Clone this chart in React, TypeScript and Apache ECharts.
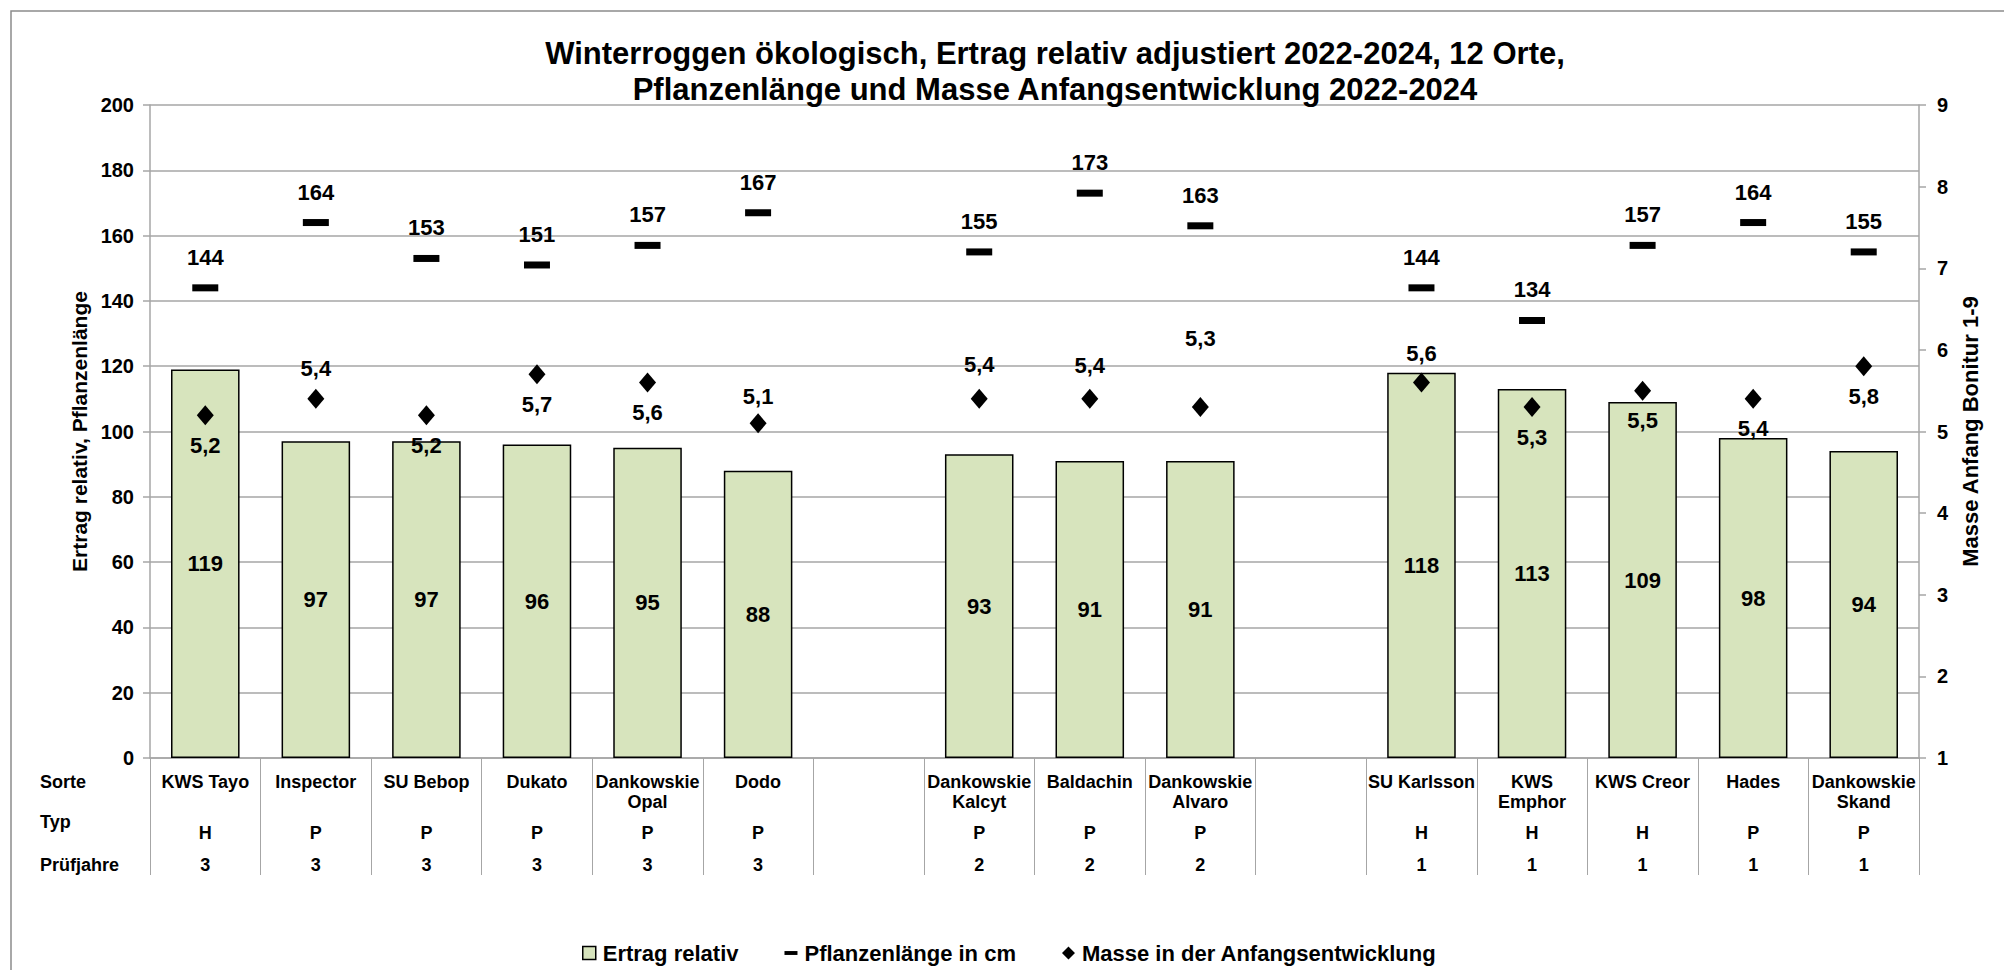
import React, { useEffect, useRef } from 'react';
import * as echarts from 'echarts';

const sorten = ['KWS Tayo', 'Inspector', 'SU Bebop', 'Dukato', 'Dankowskie\nOpal', 'Dodo', '', 'Dankowskie\nKalcyt', 'Baldachin', 'Dankowskie\nAlvaro', '', 'SU Karlsson', 'KWS\nEmphor', 'KWS Creor', 'Hades', 'Dankowskie\nSkand'];
const typ = ['H', 'P', 'P', 'P', 'P', 'P', '', 'P', 'P', 'P', '', 'H', 'H', 'H', 'P', 'P'];
const pruefjahre = ['3', '3', '3', '3', '3', '3', '', '2', '2', '2', '', '1', '1', '1', '1', '1'];
const ertrag = [119, 97, 97, 96, 95, 88, null, 93, 91, 91, null, 118, 113, 109, 98, 94];
const laenge = [144, 164, 153, 151, 157, 167, null, 155, 173, 163, null, 144, 134, 157, 164, 155];
const masse = [5.2, 5.4, 5.2, 5.7, 5.6, 5.1, null, 5.4, 5.4, 5.3, null, 5.6, 5.3, 5.5, 5.4, 5.8];
const masseLabelPos = ['bottom', 'top', 'bottom', 'bottom', 'bottom', 'top', '', 'top', 'top', 'top', '', 'top', 'bottom', 'bottom', 'bottom', 'bottom'];
const masseLabelDist = [9, 9, 9, 9, 9, 6, 0, 13, 12, 48, 0, 8, 9, 9, 9, 9];

const seriesNames = ['Ertrag relativ', 'Pflanzenlänge in cm', 'Masse in der Anfangsentwicklung'];
const titleText = 'Winterroggen ökologisch, Ertrag relativ adjustiert 2022-2024, 12 Orte,\nPflanzenlänge und Masse Anfangsentwicklung 2022-2024';
const leftAxisName = 'Ertrag relativ, Pflanzenlänge';
const rightAxisName = 'Masse Anfang Bonitur 1-9';
const rowLabels = ['Sorte', 'Typ', 'Prüfjahre'];

const FONT = '"Liberation Sans", Arial, sans-serif';
const GRAY = '#a6a6a6';

export default function App() {
  const ref = useRef<HTMLDivElement>(null);
  useEffect(() => {
    const chart = echarts.init(ref.current!, null, { renderer: 'svg' });
    const txt = (size: number) => ({ color: '#000', fontWeight: 'bold' as const, fontSize: size, fontFamily: FONT });
    const catAxisBase = {
      type: 'category' as const,
      gridIndex: 0,
      position: 'bottom' as const,
      boundaryGap: true,
    };
    const rowText = (i: number, y: number) => ({
      type: 'text',
      x: 40,
      y,
      style: { text: rowLabels[i], fill: '#000', verticalAlign: 'middle', font: `bold 18px ${FONT}` },
    });
    const option: any = {
      animation: false,
      backgroundColor: '#fff',
      title: {
        text: titleText,
        left: 1050,
        top: 30,
        textAlign: 'center',
        textStyle: { ...txt(31), lineHeight: 36 },
      },
      grid: { left: 150, right: 85, top: 105, bottom: 212, containLabel: false },
      legend: {
        left: 577,
        top: 937,
        itemWidth: 13,
        itemHeight: 13,
        itemGap: 46,
        textStyle: { ...txt(22), padding: [0, 0, 0, 2] },
        data: [
          { name: seriesNames[0], icon: 'rect', itemStyle: { color: '#d7e4bd', borderColor: '#000', borderWidth: 1.5, opacity: 1 } },
          { name: seriesNames[1], icon: 'path://M0,0H10V3H0Z', itemStyle: { color: '#000', opacity: 1 } },
          { name: seriesNames[2], icon: 'diamond', itemStyle: { color: '#000', opacity: 1 } },
        ],
      },
      xAxis: [
        {
          ...catAxisBase,
          data: sorten,
          axisLine: { show: true, lineStyle: { color: GRAY, width: 1.5 } },
          axisTick: { show: true, interval: 0, length: 117, lineStyle: { color: GRAY, width: 1 } },
          axisLabel: { ...txt(18), interval: 0, margin: 14, lineHeight: 20 },
        },
        {
          ...catAxisBase,
          data: typ,
          axisLine: { show: false },
          axisTick: { show: false },
          axisLabel: { ...txt(18), interval: 0, margin: 65, lineHeight: 20 },
        },
        {
          ...catAxisBase,
          data: pruefjahre,
          axisLine: { show: false },
          axisTick: { show: false },
          axisLabel: { ...txt(18), interval: 0, margin: 97, lineHeight: 20 },
        },
      ],
      yAxis: [
        {
          type: 'value',
          min: 0,
          max: 200,
          interval: 20,
          name: leftAxisName,
          nameLocation: 'middle',
          nameRotate: 90,
          nameGap: 55,
          nameTextStyle: txt(21),
          axisLine: { show: true, lineStyle: { color: GRAY, width: 1.5 } },
          axisTick: { show: true, length: 7, lineStyle: { color: GRAY, width: 1.5 } },
          axisLabel: { ...txt(20), margin: 16 },
          splitLine: { show: true, lineStyle: { color: GRAY, width: 1.5 } },
        },
        {
          type: 'value',
          min: 1,
          max: 9,
          interval: 1,
          position: 'right',
          name: rightAxisName,
          nameLocation: 'middle',
          nameRotate: 90,
          nameGap: 38,
          nameTextStyle: txt(22),
          axisLine: { show: true, lineStyle: { color: GRAY, width: 1.5 } },
          axisTick: { show: true, length: 7, lineStyle: { color: GRAY, width: 1.5 } },
          axisLabel: { ...txt(20), margin: 18 },
          splitLine: { show: false },
        },
      ],
      series: [
        {
          name: seriesNames[0],
          type: 'bar',
          xAxisIndex: 0,
          yAxisIndex: 0,
          barWidth: '62%',
          data: ertrag.map((v) => (v === null ? '-' : v)),
          itemStyle: { color: '#d7e4bd', borderColor: '#000', borderWidth: 1.5, opacity: 1 },
          label: { show: true, position: 'inside', ...txt(22) },
          z: 2,
        },
        {
          name: seriesNames[1],
          type: 'scatter',
          xAxisIndex: 0,
          yAxisIndex: 0,
          symbol: 'rect',
          symbolSize: [26, 7],
          itemStyle: { color: '#000', opacity: 1 },
          data: laenge.map((v) => (v === null ? '-' : v)),
          label: { show: true, position: 'top', distance: 16, ...txt(22) },
          z: 4,
        },
        {
          name: seriesNames[2],
          type: 'scatter',
          xAxisIndex: 0,
          yAxisIndex: 1,
          symbol: 'diamond',
          symbolSize: [17, 20],
          itemStyle: { color: '#000', opacity: 1 },
          data: masse.map((v, i) =>
            v === null
              ? '-'
              : {
                  value: v,
                  label: { position: masseLabelPos[i], distance: masseLabelDist[i] },
                }
          ),
          label: {
            show: true,
            ...txt(22),
            formatter: (p: any) => Number(p.value).toFixed(1).replace('.', ','),
          },
          z: 3,
        },
      ],
      graphic: [
        {
          type: 'rect',
          shape: { x: 11, y: 11, width: 2200, height: 1200 },
          style: { fill: 'none', stroke: '#8c8c8c', lineWidth: 1.5 },
          silent: true,
          z: -10,
        },
        rowText(0, 782),
        rowText(1, 822),
        rowText(2, 865),
      ],
    };
    chart.setOption(option);
    return () => chart.dispose();
  }, []);
  return (
    <div
      ref={ref}
      style={{ position: 'fixed', left: 0, top: 0, width: 2004, height: 970, background: '#fff' }}
    />
  );
}
